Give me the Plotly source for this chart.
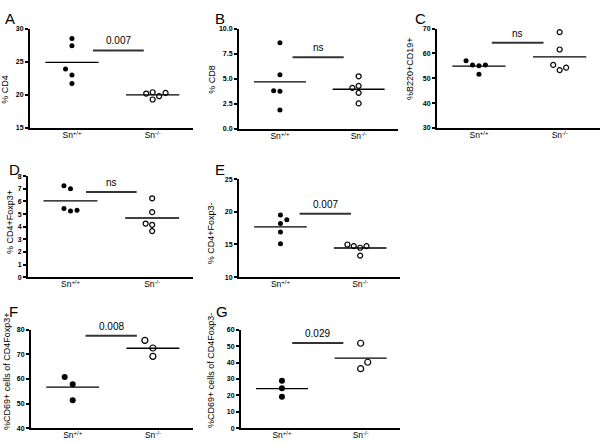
import numpy as np
import plotly.graph_objects as go

# ---------------- data ----------------
group_labels = ["Sn<sup>+/+</sup>", "Sn<sup>-/-</sup>"]
panel_letters = ["A", "B", "C", "D", "E", "F", "G"]
y_titles = ["% CD4", "% CD8", "%B220+CD19+", "% CD4+Foxp3+", "% CD4+Foxp3-",
            "%CD69+ cells of CD4Foxp3+", "%CD69+ cells of CD4Foxp3-"]

wt_A = [28.5, 27.4, 23.9, 23.0, 21.7]
ko_A = [20.2, 20.4, 19.3, 19.8, 20.3]
wt_B = [8.6, 5.4, 3.8, 3.75, 1.9]
ko_B = [5.25, 4.3, 4.1, 3.6, 2.55]
wt_C = [57.1, 55.4, 55.1, 55.4, 51.6]
ko_C = [68.6, 61.6, 55.4, 53.3, 54.3]
wt_D = [7.25, 7.0, 5.45, 5.25, 5.3]
ko_D = [6.25, 5.15, 4.25, 4.15, 3.65]
wt_E = [19.5, 18.8, 18.2, 16.9, 15.1]
ko_E = [15.0, 14.75, 14.5, 14.75, 13.3]
wt_F = [60.8, 57.9, 51.4]
ko_F = [75.7, 72.6, 69.2]
wt_G = [29.0, 24.3, 19.2]
ko_G = [51.8, 40.2, 36.3]

p_text = ["0.007", "ns", "ns", "ns", "0.007", "0.008", "0.029"]
sig_level = [26.7, 7.15, 64.3, 6.75, 19.7, 77.6, 52.0]

y_ranges = [[15, 30], [0, 10], [30, 70], [0, 8], [10, 25], [40, 80], [0, 60]]
y_dticks = [5, 2.5, 10, 1, 5, 10, 10]
y_formats = ["d", ".1f", "d", "d", "d", "d", "d"]

wt_all = [wt_A, wt_B, wt_C, wt_D, wt_E, wt_F, wt_G]
ko_all = [ko_A, ko_B, ko_C, ko_D, ko_E, ko_F, ko_G]

# ---------------- layout / styles ----------------
W, H = 600, 444
# axes boxes in pixels: x0, x1, ytop, ybottom
boxes = [(30, 193, 25, 126), (239, 398, 25, 127), (437, 600, 25, 126),
         (28, 193, 175, 277.5), (239, 400, 178, 277.5),
         (31, 193, 331, 431), (241, 400, 331, 431)]
jit_wt = [[0, 0, -0.08, 0, 0], [0, 0, -0.08, 0, 0], [-0.16, -0.08, 0, 0.08, 0],
          [-0.08, 0, -0.08, 0, 0.08], [0, 0.08, 0, 0, 0], [-0.1, 0, 0], [0, 0, 0]]
jit_ko = [[-0.08, 0, 0, 0.08, 0.16], [0, 0, -0.08, 0, 0], [0, 0, -0.08, 0, 0.08],
          [0, 0, -0.08, 0, 0], [-0.16, -0.08, 0, 0.08, 0], [-0.1, 0, 0], [0, 0.09, 0]]
sig_x = [(1.26, 1.89), (1.16, 1.81), (1.16, 1.80), (1.19, 1.81), (1.24, 1.885),
         (1.16, 1.80), (1.13, 1.78)]
letter_pos = [(3, 4), (213, 4), (413, 4), (7, 157), (213, 157), (7, 302), (214, 302)]
title_pos = [(5, 87), (212, 77), (410, 66), (9.5, 222), (211, 233), (7, 373), (211, 373)]
marker_sizes = [5, 5, 5, 5, 5, 6, 6]
FONT = "Liberation Sans, Arial, sans-serif"

fig = go.Figure()
layout = dict(width=W, height=H, margin=dict(l=0, r=0, t=0, b=0),
              paper_bgcolor="white", plot_bgcolor="white", showlegend=False,
              font=dict(family=FONT, color="black"))
annotations = []

for i in range(7):
    sfx = "" if i == 0 else str(i + 1)
    xa, ya = "x" + sfx, "y" + sfx
    x0, x1, yt, yb = boxes[i]
    layout["xaxis" + sfx] = dict(
        domain=[x0 / W, x1 / W], range=[0.48, 2.5], anchor=ya,
        showline=True, linewidth=2, linecolor="black", showgrid=False, zeroline=False,
        tickmode="array", tickvals=[1, 2], ticktext=group_labels, ticks="",
        ticklabelstandoff=-2,
        tickfont=dict(size=8.5, family=FONT, color="black"), fixedrange=True)
    layout["yaxis" + sfx] = dict(
        domain=[1 - yb / H, 1 - yt / H], range=y_ranges[i], anchor=xa,
        showline=True, linewidth=2, linecolor="black", showgrid=False, zeroline=False,
        ticks="outside", ticklen=3, tickwidth=1.5, tickcolor="black",
        dtick=y_dticks[i], tick0=y_ranges[i][0], tickformat=y_formats[i],
        tickfont=dict(size=7, family=FONT, color="black", weight="bold"), fixedrange=True)

    ms = marker_sizes[i]
    wt, ko = wt_all[i], ko_all[i]
    fig.add_trace(go.Scatter(
        x=[1 + j for j in jit_wt[i]], y=wt, mode="markers", xaxis=xa, yaxis=ya,
        marker=dict(size=ms, color="black", line=dict(width=0)), cliponaxis=False))
    fig.add_trace(go.Scatter(
        x=[2 + j for j in jit_ko[i]], y=ko, mode="markers", xaxis=xa, yaxis=ya,
        marker=dict(size=ms, color="white", line=dict(width=1.2, color="black")),
        cliponaxis=False))
    # mean lines
    for c, vals in ((1, wt), (2, ko)):
        m = float(np.mean(vals))
        fig.add_trace(go.Scatter(x=[c - 0.33, c + 0.33], y=[m, m], mode="lines",
                                 xaxis=xa, yaxis=ya, line=dict(color="black", width=1.3),
                                 hoverinfo="skip"))
    # significance bar
    sx0, sx1 = sig_x[i]
    fig.add_trace(go.Scatter(x=[sx0, sx1], y=[sig_level[i]] * 2, mode="lines",
                             xaxis=xa, yaxis=ya, line=dict(color="#333333", width=2),
                             hoverinfo="skip"))
    annotations.append(dict(x=(sx0 + sx1) / 2, y=sig_level[i], xref=xa, yref=ya,
                            text=p_text[i], showarrow=False, yanchor="bottom", yshift=2,
                            font=dict(size=10, family=FONT, color="black")))
    lx, ly = letter_pos[i]
    annotations.append(dict(x=lx / W, y=1 - ly / H, xref="paper", yref="paper",
                            text=panel_letters[i], showarrow=False, xanchor="left",
                            yanchor="top", font=dict(size=15, family=FONT, color="black")))
    tx, ty = title_pos[i]
    annotations.append(dict(x=tx / W, y=1 - ty / H, xref="paper", yref="paper",
                            text=y_titles[i], showarrow=False, textangle=-90,
                            xanchor="center", yanchor="middle",
                            font=dict(size=9, family=FONT, color="black")))

layout["annotations"] = annotations
fig.update_layout(**layout)
fig.write_html("out.html", config={"displayModeBar": False},
               post_script="document.body.style.margin='0';")
